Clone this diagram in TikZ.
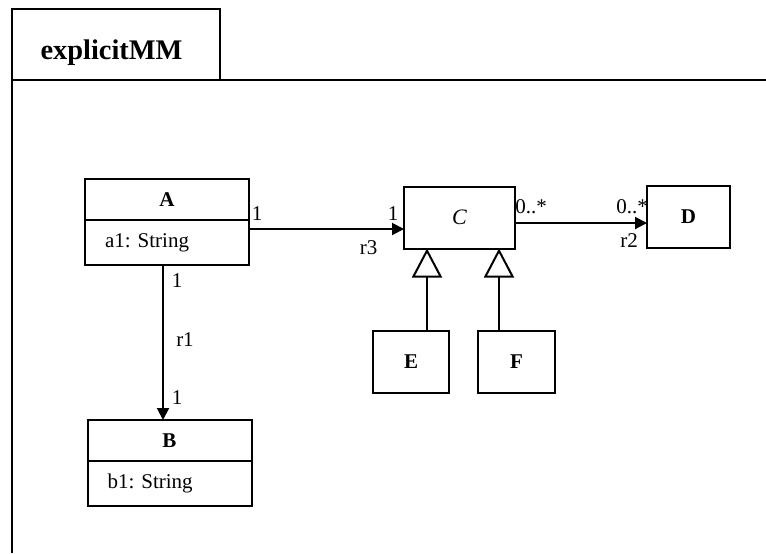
\documentclass[tikz,border=0pt]{standalone}
\usepackage{fontspec}
\setmainfont{Liberation Serif}
\usetikzlibrary{arrows.meta,calc,positioning}
\frenchspacing

\begin{document}
\begin{tikzpicture}[x=0.5pt,y=-0.5pt,line width=1pt,
every node/.style={draw,rectangle,inner sep=0pt,outer sep=0pt,font=\fontsize{10.5}{12}\selectfont},
cname/.style={minimum width=82pt,minimum height=20.5pt,font=\fontsize{10.5}{12}\selectfont\bfseries},
cattr/.style={minimum width=82pt,minimum height=22.5pt,text width=62pt,align=left},
cbox/.style={minimum width=#1,minimum height=31pt,font=\fontsize{10.5}{12}\selectfont\bfseries},
mult/.style={draw=none},
assoc/.style={-{Triangle[length=6pt,width=6pt]}},
gen/.style={-{Triangle[open,length=14.5pt,width=15pt]}}]

\useasboundingbox (0,0) rectangle (766,553);

\node[minimum width=104pt,minimum height=35.5pt] (T) at (116,44.5) {};
\node[draw=none,font=\fontsize{14.2}{17}\selectfont\bfseries] (title) at (111.5,53) {explicitMM};
\coordinate (T1) at (766,80);
\coordinate (T2) at (12,553);
\draw (T.south east)--(T1);
\draw (T.south west)--(T2);

\node[cname] (A) at (167,199.5) {A};
\node[cattr,anchor=north] (Aa) at (A.south) {a1: String};
\node[cname] (B) at (169.5,440.5) {B};
\node[cattr,anchor=north] (Ba) at (B.south) {b1: String};
\node[cbox=55.5pt,font=\fontsize{11}{12}\selectfont\itshape] (C) at (459.5,217.5) {C};
\node[cbox=41.5pt] (D) at (688.5,217) {D};
\node[cbox=38pt] (E) at (411,361.5) {E};
\node[cbox=38.5pt] (F) at (516.5,361.5) {F};

\draw[assoc] ([yshift=-4.5pt]Aa.north east)--([yshift=-4.5pt]Aa.north east -| C.west);
\draw[assoc] ([yshift=-2.75pt]C.east)--([yshift=-2.75pt]C.east -| D.west);
\draw[assoc] ([xshift=-2pt]Aa.south)--([xshift=-2pt]Aa.south |- B.north);
\draw[gen] ([xshift=8pt]E.north)--([xshift=8pt]E.north |- C.south);
\draw[gen] ([xshift=-8.75pt]F.north)--([xshift=-8.75pt]F.north |- C.south);

\node[mult] (m1) at (257,213.5) {1};
\node[mult] (m2) at (393,213.5) {1};
\node[mult] (r3) at (368.5,248) {r3};
\node[mult] (m3) at (531,207) {0..*};
\node[mult] (m4) at (632,207) {0..*};
\node[mult] (r2) at (629,241) {r2};
\node[mult] (m5) at (177,281) {1};
\node[mult] (r1) at (185,340) {r1};
\node[mult] (m6) at (177,398) {1};
\end{tikzpicture}
\end{document}
